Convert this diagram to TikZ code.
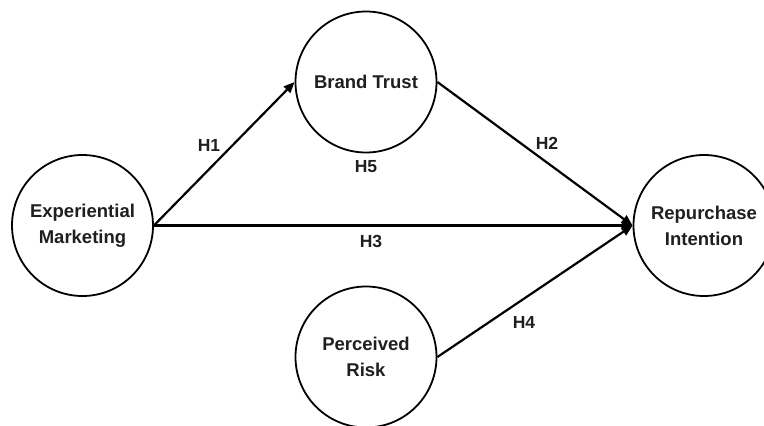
\documentclass[tikz,border=0pt]{standalone}
\usepackage{fontspec}
\setmainfont{Liberation Sans}
\usetikzlibrary{arrows.meta}
\begin{document}
\begin{tikzpicture}[x=1pt,y=-1pt,
  construct/.style={circle,draw=black,line width=1.8pt,minimum size=141pt,inner sep=0pt,
    align=center,font=\fontsize{18.5}{26}\selectfont\bfseries,text=black!88},
  path/.style={line width=2.2pt,draw=black,-{Triangle[length=11pt,width=9pt]}},
  hyp/.style={font=\fontsize{17.5}{21}\selectfont\bfseries,text=black!88,inner sep=0pt}]
  \useasboundingbox (0,0) rectangle (764,426);
  \fill[white] (0,0) rectangle (764,426);

  % latent constructs
  \node[construct] (em) at (82.5,225.5) {Experiential\\Marketing};
  \node[construct] (bt) at (366,82) {Brand Trust};
  \node[construct] (pr) at (366,357) {Perceived\\Risk};
  \node[construct] (ri) at (704,225.5) {Repurchase\\Intention};

  % hypothesised paths
  \draw[path] (em.east) -- (bt.west);
  \draw[path] (bt.east) -- (ri.west);
  \draw[path] (em.east) -- (ri.west);
  \draw[path] (pr.east) -- (ri.west);

  % hypothesis labels
  \node[hyp] (h1) at (209,145) {H1};
  \node[hyp] (h2) at (547,143) {H2};
  \node[hyp] (h3) at (371,241) {H3};
  \node[hyp] (h4) at (524,322) {H4};
  \node[hyp] (h5) at (366,167) {H5};
\end{tikzpicture}
\end{document}
